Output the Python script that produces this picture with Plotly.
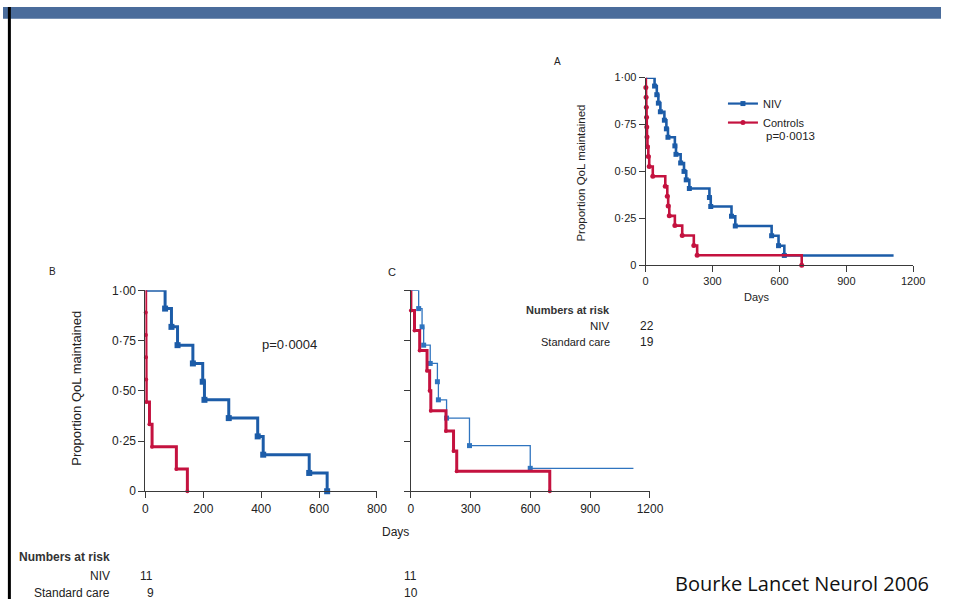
import plotly.graph_objects as go

# ---------------- data (days, proportion after each step) ----------------
# Panel A (all patients)
a_niv_t = [40, 50, 57, 66, 84, 93, 100, 131, 136, 157, 172, 182, 196, 286, 292, 385, 402, 565, 596, 622]
a_niv_s = [0.955, 0.909, 0.864, 0.818, 0.773, 0.727, 0.682, 0.636, 0.591, 0.545, 0.500, 0.455, 0.409,
           0.361, 0.313, 0.261, 0.209, 0.157, 0.104, 0.052]
a_niv_end = 1112
a_ctl_t = [1, 2, 3, 4, 5, 6, 8, 12, 16, 32, 88, 97, 101, 106, 131, 164, 216, 231, 700]
a_ctl_s = [0.947, 0.895, 0.842, 0.789, 0.737, 0.684, 0.632, 0.579, 0.526, 0.474, 0.421, 0.368, 0.316,
           0.263, 0.211, 0.158, 0.105, 0.053, 0.0]
a_ctl_end = 700

# Panel B
b_niv_t = [68, 90, 111, 164, 198, 204, 288, 388, 407, 566, 628]
b_niv_s = [0.909, 0.818, 0.727, 0.636, 0.545, 0.455, 0.364, 0.273, 0.182, 0.091, 0.0]
b_niv_end = 628
b_std_t = [1, 1.5, 2, 2.5, 3, 14, 23, 107, 145]
b_std_s = [0.889, 0.778, 0.667, 0.556, 0.444, 0.333, 0.222, 0.111, 0.0]
b_std_end = 145

# Panel C
c_niv_t = [39, 56, 64, 97, 133, 138, 179, 294, 599]
c_niv_s = [0.909, 0.818, 0.727, 0.636, 0.545, 0.455, 0.364, 0.227, 0.114]
c_niv_end = 1117
c_std_t = [0, 18, 44, 81, 94, 100, 176, 214, 230, 697]
c_std_s = [0.9, 0.8, 0.7, 0.6, 0.5, 0.4, 0.3, 0.2, 0.1, 0.0]
c_std_end = 697

y_ticks = [0, 0.25, 0.5, 0.75, 1.0]
y_ticktext = ["0", "0·25", "0·50", "0·75", "1·00"]
a_xticks = [0, 300, 600, 900, 1200]
b_xticks = [0, 200, 400, 600, 800]
c_xticks = [0, 300, 600, 900, 1200]

# ---------------- styling ----------------
BLUE = "#1c5ca8"
BLUE_C = "#2f74bf"
RED = "#c4123f"
AX = "#3a3a3a"
FONT = "Liberation Sans Narrow, Liberation Sans, Arial, sans-serif"
W, H = 955, 606


def px(x):
    return x / W


def py(y):
    return 1 - y / H


def km_path(t, s, end):
    xs = [0] + list(t)
    ys = [1.0] + list(s)
    if end > xs[-1]:
        xs.append(end)
        ys.append(ys[-1])
    return xs, ys


fig = go.Figure()


def add_curve(t, s, end, color, width, symbol, msize, xa, ya, name=None, legend=False):
    xs, ys = km_path(t, s, end)
    fig.add_trace(go.Scatter(
        x=xs, y=ys, mode="lines", line=dict(color=color, width=width, shape="hv"),
        xaxis=xa, yaxis=ya, cliponaxis=False, hoverinfo="skip",
        name=name, showlegend=False))
    fig.add_trace(go.Scatter(
        x=t, y=s, mode="markers",
        marker=dict(color=color, size=msize, symbol=symbol, line=dict(width=0)),
        xaxis=xa, yaxis=ya, cliponaxis=False, hoverinfo="skip", showlegend=False))
    if legend:
        fig.add_trace(go.Scatter(
            x=[None], y=[None], mode="lines+markers", name=name,
            line=dict(color=color, width=2.2),
            marker=dict(color=color, size=5, symbol=symbol),
            xaxis=xa, yaxis=ya, showlegend=True))


add_curve(a_niv_t, a_niv_s, a_niv_end, BLUE, 2.6, "square", 5, "x", "y", "NIV", True)
add_curve(a_ctl_t, a_ctl_s, a_ctl_end, RED, 2.6, "circle", 5, "x", "y", "Controls", True)
add_curve(b_niv_t, b_niv_s, b_niv_end, BLUE, 3, "square", 6, "x2", "y2")
add_curve(b_std_t, b_std_s, b_std_end, RED, 3, "circle", 4, "x2", "y2")
add_curve(c_niv_t, c_niv_s, c_niv_end, BLUE_C, 1.3, "square", 5, "x3", "y3")
add_curve(c_std_t, c_std_s, c_std_end, RED, 3, "circle", 4, "x3", "y3")

axis_common = dict(showline=True, linecolor=AX, linewidth=1, ticks="outside", tickcolor=AX,
                   ticklen=6, tickwidth=1, showgrid=False, zeroline=False, fixedrange=True)

fig.update_layout(
    width=W, height=H, margin=dict(l=0, r=0, t=0, b=0),
    paper_bgcolor="white", plot_bgcolor="rgba(0,0,0,0)",
    font=dict(family=FONT, color="#222", size=11),
    showlegend=True,
    legend=dict(x=px(733), y=py(84), xanchor="left", yanchor="top",
                bgcolor="rgba(0,0,0,0)", font=dict(size=11, family=FONT),
                tracegroupgap=0, itemsizing="trace"),
    xaxis=dict(domain=[px(654.3), px(926.7)], range=[0, 1200], anchor="y",
               tickvals=a_xticks, ticktext=[str(v) for v in a_xticks],
               tickfont=dict(size=11), **axis_common),
    yaxis=dict(domain=[py(264.3), py(72.3)], range=[0, 1], anchor="x",
               tickvals=y_ticks, ticktext=y_ticktext, tickfont=dict(size=11), **axis_common),
    xaxis2=dict(domain=[px(145), px(380.7)], range=[0, 800], anchor="y2",
                tickvals=b_xticks, ticktext=[str(v) for v in b_xticks],
                tickfont=dict(size=12), **axis_common),
    yaxis2=dict(domain=[py(495.7), py(290)], range=[0, 1], anchor="x2",
                tickvals=y_ticks, ticktext=y_ticktext, tickfont=dict(size=12), **axis_common),
    xaxis3=dict(domain=[px(415.3), px(658.7)], range=[0, 1200], anchor="y3",
                tickvals=c_xticks, ticktext=[str(v) for v in c_xticks],
                tickfont=dict(size=12), **axis_common),
    yaxis3=dict(domain=[py(495.7), py(290)], range=[0, 1], anchor="x3",
                tickvals=y_ticks, showticklabels=False, **axis_common),
)

# frame decorations
fig.add_shape(type="rect", xref="paper", yref="paper", x0=0, x1=1, y0=py(12), y1=1,
              fillcolor="#4a6c9b", line=dict(width=0), layer="below")
fig.add_shape(type="line", xref="paper", yref="paper", x0=px(6.5), x1=px(6.5), y0=0, y1=1,
              line=dict(color="black", width=3))


def note(text, x, y, size=11, xanchor="center", angle=0, family=FONT, color="#222"):
    fig.add_annotation(text=text, x=px(x), y=py(y), xref="paper", yref="paper",
                       showarrow=False, xanchor=xanchor, yanchor="middle",
                       textangle=angle, font=dict(size=size, family=family, color=color))


note("A", 565, 56, 10)
note("B", 50, 271, 10)
note("C", 396, 271, 11)
note("Proportion QoL maintained", 589, 170, 11.5, angle=-90)
note("Proportion QoL maintained", 75, 390, 13, angle=-90)
note("Days", 768, 297, 11)
note("Days", 400, 537, 12)
note("p=0·0013", 775, 132, 11.5, xanchor="left")
note("p=0·0004", 262, 345, 13, xanchor="left")

note("<b>Numbers at risk</b>", 620, 310, 11, xanchor="right", color="#333")
note("NIV", 620, 327, 11.5, xanchor="right")
note("22", 656, 327, 12)
note("Standard care", 620, 343, 11, xanchor="right")
note("19", 656, 343, 12)

note("<b>Numbers at risk</b>", 111, 563, 12, xanchor="right", color="#333")
note("NIV", 111, 582, 12, xanchor="right")
note("11", 146, 582, 12)
note("Standard care", 111, 600, 12, xanchor="right")
note("9", 150, 600, 12)
note("11", 415, 582, 12)
note("10", 415, 600, 12)

note("Bourke Lancet Neurol 2006", 682, 590, 20, xanchor="left",
     family="Open Sans, Noto Sans, sans-serif", color="#111")

page_fix = (
    "var h=document.documentElement;h.style.margin='0';h.style.padding='0';h.style.overflow='hidden';"
    "var b=document.body;b.style.margin='0';b.style.padding='0';b.style.overflow='hidden';"
    "var g=document.getElementById('{plot_id}');g.style.position='fixed';g.style.left='0';g.style.top='0';"
)

fig.write_html("out.html", config={"displayModeBar": False, "staticPlot": True},
               post_script=page_fix)
